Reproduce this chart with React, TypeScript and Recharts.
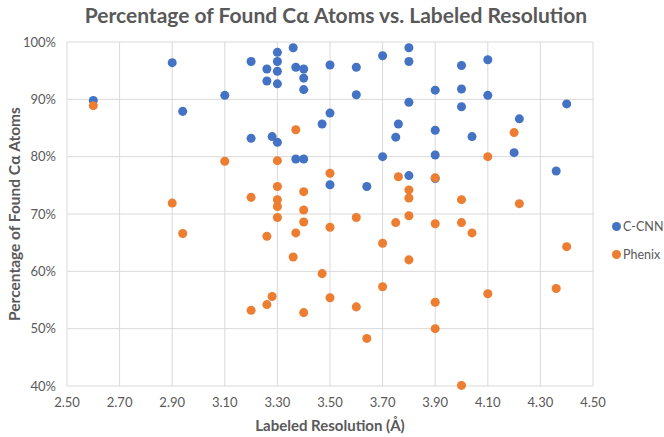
import React from 'react';
import { ScatterChart, Scatter, XAxis, YAxis, ZAxis, CartesianGrid } from 'recharts';

// C-CNN results (resolution in Å, % of Cα found)
const ccnnRes = [
  2.6, 2.9, 2.94, 3.1, 3.2, 3.2, 3.36, 3.3, 3.3, 3.26, 3.3, 3.37, 3.4, 3.4, 3.26, 3.3, 3.4,
  3.5, 3.6, 3.7, 3.8, 3.8, 3.6, 3.8, 3.5, 3.47, 3.76, 3.75, 3.28, 3.3, 3.37, 3.4, 3.7, 3.5,
  3.64, 3.8, 4.0, 4.1, 3.9, 4.0, 4.1, 4.0, 4.4, 4.22, 3.9, 4.04, 4.2, 3.9, 4.36, 3.9,
];
const ccnnPct = [
  89.8, 96.4, 87.9, 90.7, 96.6, 83.2, 99.0, 98.2, 96.6, 95.3, 94.9, 95.6, 95.3, 93.7, 93.2,
  92.7, 91.7, 96.0, 95.6, 97.6, 99.0, 96.6, 90.8, 89.5, 87.6, 85.7, 85.7, 83.4, 83.5, 82.5,
  79.6, 79.6, 80.0, 75.1, 74.8, 76.7, 95.9, 96.9, 91.6, 91.8, 90.7, 88.7, 89.2, 86.6, 84.6,
  83.5, 80.7, 80.3, 77.5, 76.2,
];

// Phenix results
const phenixRes = [
  2.6, 3.1, 2.9, 3.2, 3.37, 3.3, 3.5, 3.76, 3.3, 3.4, 3.3, 3.3, 3.4, 3.8, 3.8, 3.3, 3.4,
  3.6, 3.75, 3.8, 3.5, 4.2, 4.1, 3.9, 4.0, 4.22, 3.9, 4.0, 4.04, 2.94, 3.2, 3.26, 3.37, 3.7,
  3.8, 3.36, 3.47, 3.7, 3.28, 3.26, 3.5, 3.4, 3.6, 3.64, 4.4, 4.36, 4.1, 3.9, 3.9, 4.0,
];
const phenixPct = [
  88.9, 79.2, 71.9, 72.9, 84.7, 79.3, 77.1, 76.5, 74.8, 73.9, 72.5, 71.3, 70.7, 74.2, 72.8,
  69.4, 68.6, 69.4, 68.5, 69.7, 67.7, 84.2, 80.0, 76.3, 72.5, 71.8, 68.3, 68.5, 66.7, 66.6,
  53.2, 66.1, 66.7, 64.9, 62.0, 62.5, 59.6, 57.3, 55.6, 54.2, 55.4, 52.8, 53.8, 48.3, 64.3,
  57.0, 56.1, 54.6, 50.0, 40.1,
];

const xTicks = [2.5, 2.7, 2.9, 3.1, 3.3, 3.5, 3.7, 3.9, 4.1, 4.3, 4.5];
const yTicks = [40, 50, 60, 70, 80, 90, 100];

const seriesNames = ['C-CNN', 'Phenix'];
const seriesColors = ['#4472C4', '#ED7D31'];

const ccnnData = ccnnRes.map((x, i) => ({ x, y: ccnnPct[i] }));
const phenixData = phenixRes.map((x, i) => ({ x, y: phenixPct[i] }));

const FONT = 'Lato, "Open Sans", sans-serif';
const GREY = '#595959';

export default function App() {
  return (
    <div style={{ position: 'absolute', left: 0, top: 0, width: 664, height: 437, background: '#fff', fontFamily: FONT }}>
      <div
        style={{
          position: 'absolute', left: 0, top: 2, width: 672, textAlign: 'center',
          fontSize: 21, fontWeight: 700, color: GREY, whiteSpace: 'nowrap',
        }}
      >
        Percentage of Found Cα Atoms vs. Labeled Resolution
      </div>
      <ScatterChart width={664} height={437} margin={{ top: 42, right: 71, bottom: 21, left: 0 }}>
        <CartesianGrid stroke="#d9d9d9" strokeWidth={1} />
        <XAxis
          type="number"
          dataKey="x"
          domain={[2.5, 4.5]}
          ticks={xTicks}
          tickFormatter={(v: number) => v.toFixed(2)}
          axisLine={false}
          tickLine={false}
          height={30}
          tickMargin={6}
          tick={{ fill: GREY, fontSize: 13, fontFamily: FONT }}
        />
        <YAxis
          type="number"
          dataKey="y"
          domain={[40, 100]}
          ticks={yTicks}
          tickFormatter={(v: number) => `${v}%`}
          axisLine={false}
          tickLine={false}
          width={67}
          tickMargin={5}
          tick={{ fill: GREY, fontSize: 13, fontFamily: FONT }}
        />
        <ZAxis range={[70, 70]} />
        <Scatter name={seriesNames[0]} data={ccnnData} fill={seriesColors[0]} isAnimationActive={false} />
        <Scatter name={seriesNames[1]} data={phenixData} fill={seriesColors[1]} isAnimationActive={false} />
      </ScatterChart>
      <div
        style={{
          position: 'absolute', left: 0, top: 416, width: 660, textAlign: 'center',
          fontSize: 15, fontWeight: 700, color: GREY, whiteSpace: 'nowrap',
        }}
      >
        Labeled Resolution (Å)
      </div>
      <div
        style={{
          position: 'absolute', left: 14, top: 214, whiteSpace: 'nowrap',
          transform: 'translate(-50%, -50%) rotate(-90deg)',
          fontSize: 15.5, fontWeight: 700, color: GREY,
        }}
      >
        Percentage of Found Cα Atoms
      </div>
      {seriesNames.map((name, i) => (
        <div
          key={name}
          style={{
            position: 'absolute', left: 612, top: 219 + i * 28, display: 'flex', alignItems: 'center',
            fontSize: 12.5, color: GREY, whiteSpace: 'nowrap',
          }}
        >
          <span style={{ width: 9, height: 9, borderRadius: '50%', background: seriesColors[i], marginRight: 2, flexShrink: 0 }} />
          {name}
        </div>
      ))}
    </div>
  );
}
